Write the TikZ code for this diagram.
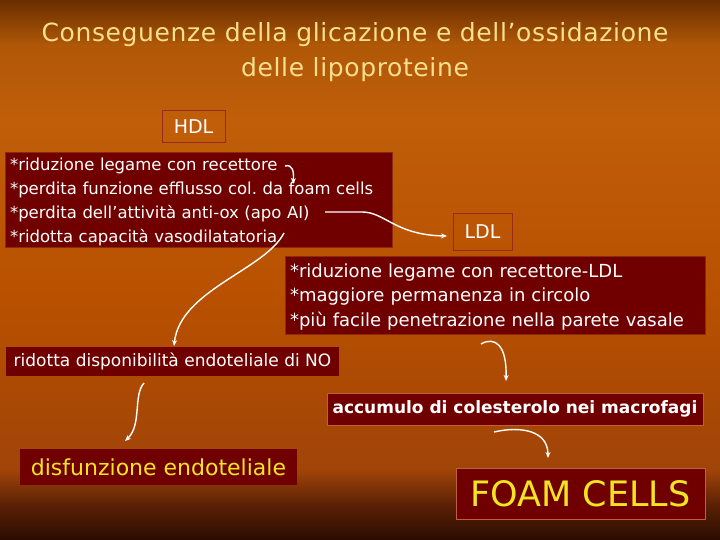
\documentclass[tikz,border=0pt]{standalone}
\usepackage{fontspec}
\setmainfont{DejaVu Sans}
\newfontfamily\titlefont{DejaVu Sans}[LetterSpace=2.5]
\usetikzlibrary{arrows.meta}
\definecolor{bgbot}{HTML}{2A0C02}
\definecolor{bgb2}{HTML}{5A2005}
\definecolor{bgb3}{HTML}{A04408}
\definecolor{bgmid}{HTML}{B85000}
\definecolor{bgup}{HTML}{C05E0A}
\definecolor{bgt2}{HTML}{B05808}
\definecolor{bgtop}{HTML}{6A2E00}
\definecolor{maroon}{HTML}{700000}
\definecolor{boxborder}{HTML}{8A2A10}
\definecolor{lblborder}{HTML}{9A2A1A}
\definecolor{orborder}{HTML}{C0603A}
\definecolor{titlecol}{HTML}{F8E08E}
\definecolor{yel}{HTML}{F5E520}
\pgfdeclareverticalshading{bgshade}{100bp}{color(0bp)=(bgbot); color(25bp)=(bgbot); color(28.2bp)=(bgb2); color(31.5bp)=(bgb3); color(47.2bp)=(bgmid); color(63.9bp)=(bgup); color(70.8bp)=(bgt2); color(75bp)=(bgtop); color(100bp)=(bgtop)}
\frenchspacing
\begin{document}
\begin{tikzpicture}[x=1pt,y=-1pt,
  box/.style={fill=maroon, draw=boxborder, line width=0.8pt, inner sep=0pt, text=white},
  lbl/.style={draw=lblborder, line width=1pt, inner sep=0pt, text=white},
  arr/.style={white, line width=1.4pt, -{Stealth[length=6pt,width=5pt]}}]
\shade[shading=bgshade] (0,0) rectangle (720,540);
\useasboundingbox (0,0) rectangle (720,540);

\node[text=titlecol, align=center, font=\titlefont\fontsize{25}{35}\selectfont] (title) at (355,52)
  {Conseguenze della glicazione e dell’ossidazione\\delle lipoproteine};

\node[lbl, minimum width=63, minimum height=32, font=\fontsize{19}{19}\selectfont] (hdl) at (193.5,127) {HDL};

\node[box, minimum width=387, minimum height=95, text width=377, align=left,
  font=\fontsize{16.5}{24}\selectfont] (hdllist) at (198.5,199.5)
  {\strut *riduzione legame con recettore\\{}*perdita funzione efflusso col. da foam cells\\{}*perdita dell’attività anti-ox (apo AI)\\{}*ridotta capacità vasodilatatoria};

\node[lbl, minimum width=59, minimum height=36, font=\fontsize{19}{19}\selectfont] (ldl) at (482.5,232) {LDL};

\node[box, minimum width=420, minimum height=78, text width=410, align=left,
  font=\fontsize{18}{24.5}\selectfont] (ldllist) at (495,295)
  {\strut *riduzione legame con recettore-LDL\\{}*maggiore permanenza in circolo\\{}*più facile penetrazione nella parete vasale};

\node[box, draw=none, minimum width=333, minimum height=29, font=\fontsize{17}{17}\selectfont] (no) at (172.5,361.5)
  {ridotta disponibilità endoteliale di NO};

\node[box, draw=orborder, minimum width=376, minimum height=32, font=\bfseries\fontsize{17}{17}\selectfont] (acc) at (515,409)
  {accumulo di colesterolo nei macrofagi};

\node[box, draw=none, text=yel, minimum width=277, minimum height=36, font=\fontsize{22}{22}\selectfont] (dis) at (158.5,467)
  {disfunzione endoteliale};

\node[box, draw=orborder, text=yel, minimum width=249, minimum height=51, font=\fontsize{35}{35}\selectfont] (foam) at (580.5,493.5)
  {FOAM CELLS};

% connector end points
\coordinate (a1s) at (285,166);
\coordinate (a1e) at (293,184);
\coordinate (a2s) at (325,212);
\coordinate (a2m) at (362,212);
\coordinate (a2e) at (447,236);
\coordinate (a3s) at (284,233);
\coordinate (a3e) at (174,346);
\coordinate (a4s) at (481,344);
\coordinate (a4e) at (506,381);
\coordinate (a5s) at (144,383);
\coordinate (a5e) at (125,441);
\coordinate (a6s) at (494,432);
\coordinate (a6e) at (548,458);

\draw[arr] (a1s) .. controls (293,164) and (294,172) .. (a1e);
\draw[arr] (a2s) -- (a2m) .. controls (385,212) and (395,235) .. (a2e);
\draw[arr] (a3s) .. controls (265,270) and (180,290) .. (a3e);
\draw[arr] (a4s) .. controls (495,336) and (507,345) .. (a4e);
\draw[arr] (a5s) .. controls (133,395) and (142,425) .. (a5e);
\draw[arr] (a6s) .. controls (520,426) and (548,430) .. (a6e);
\end{tikzpicture}
\end{document}
